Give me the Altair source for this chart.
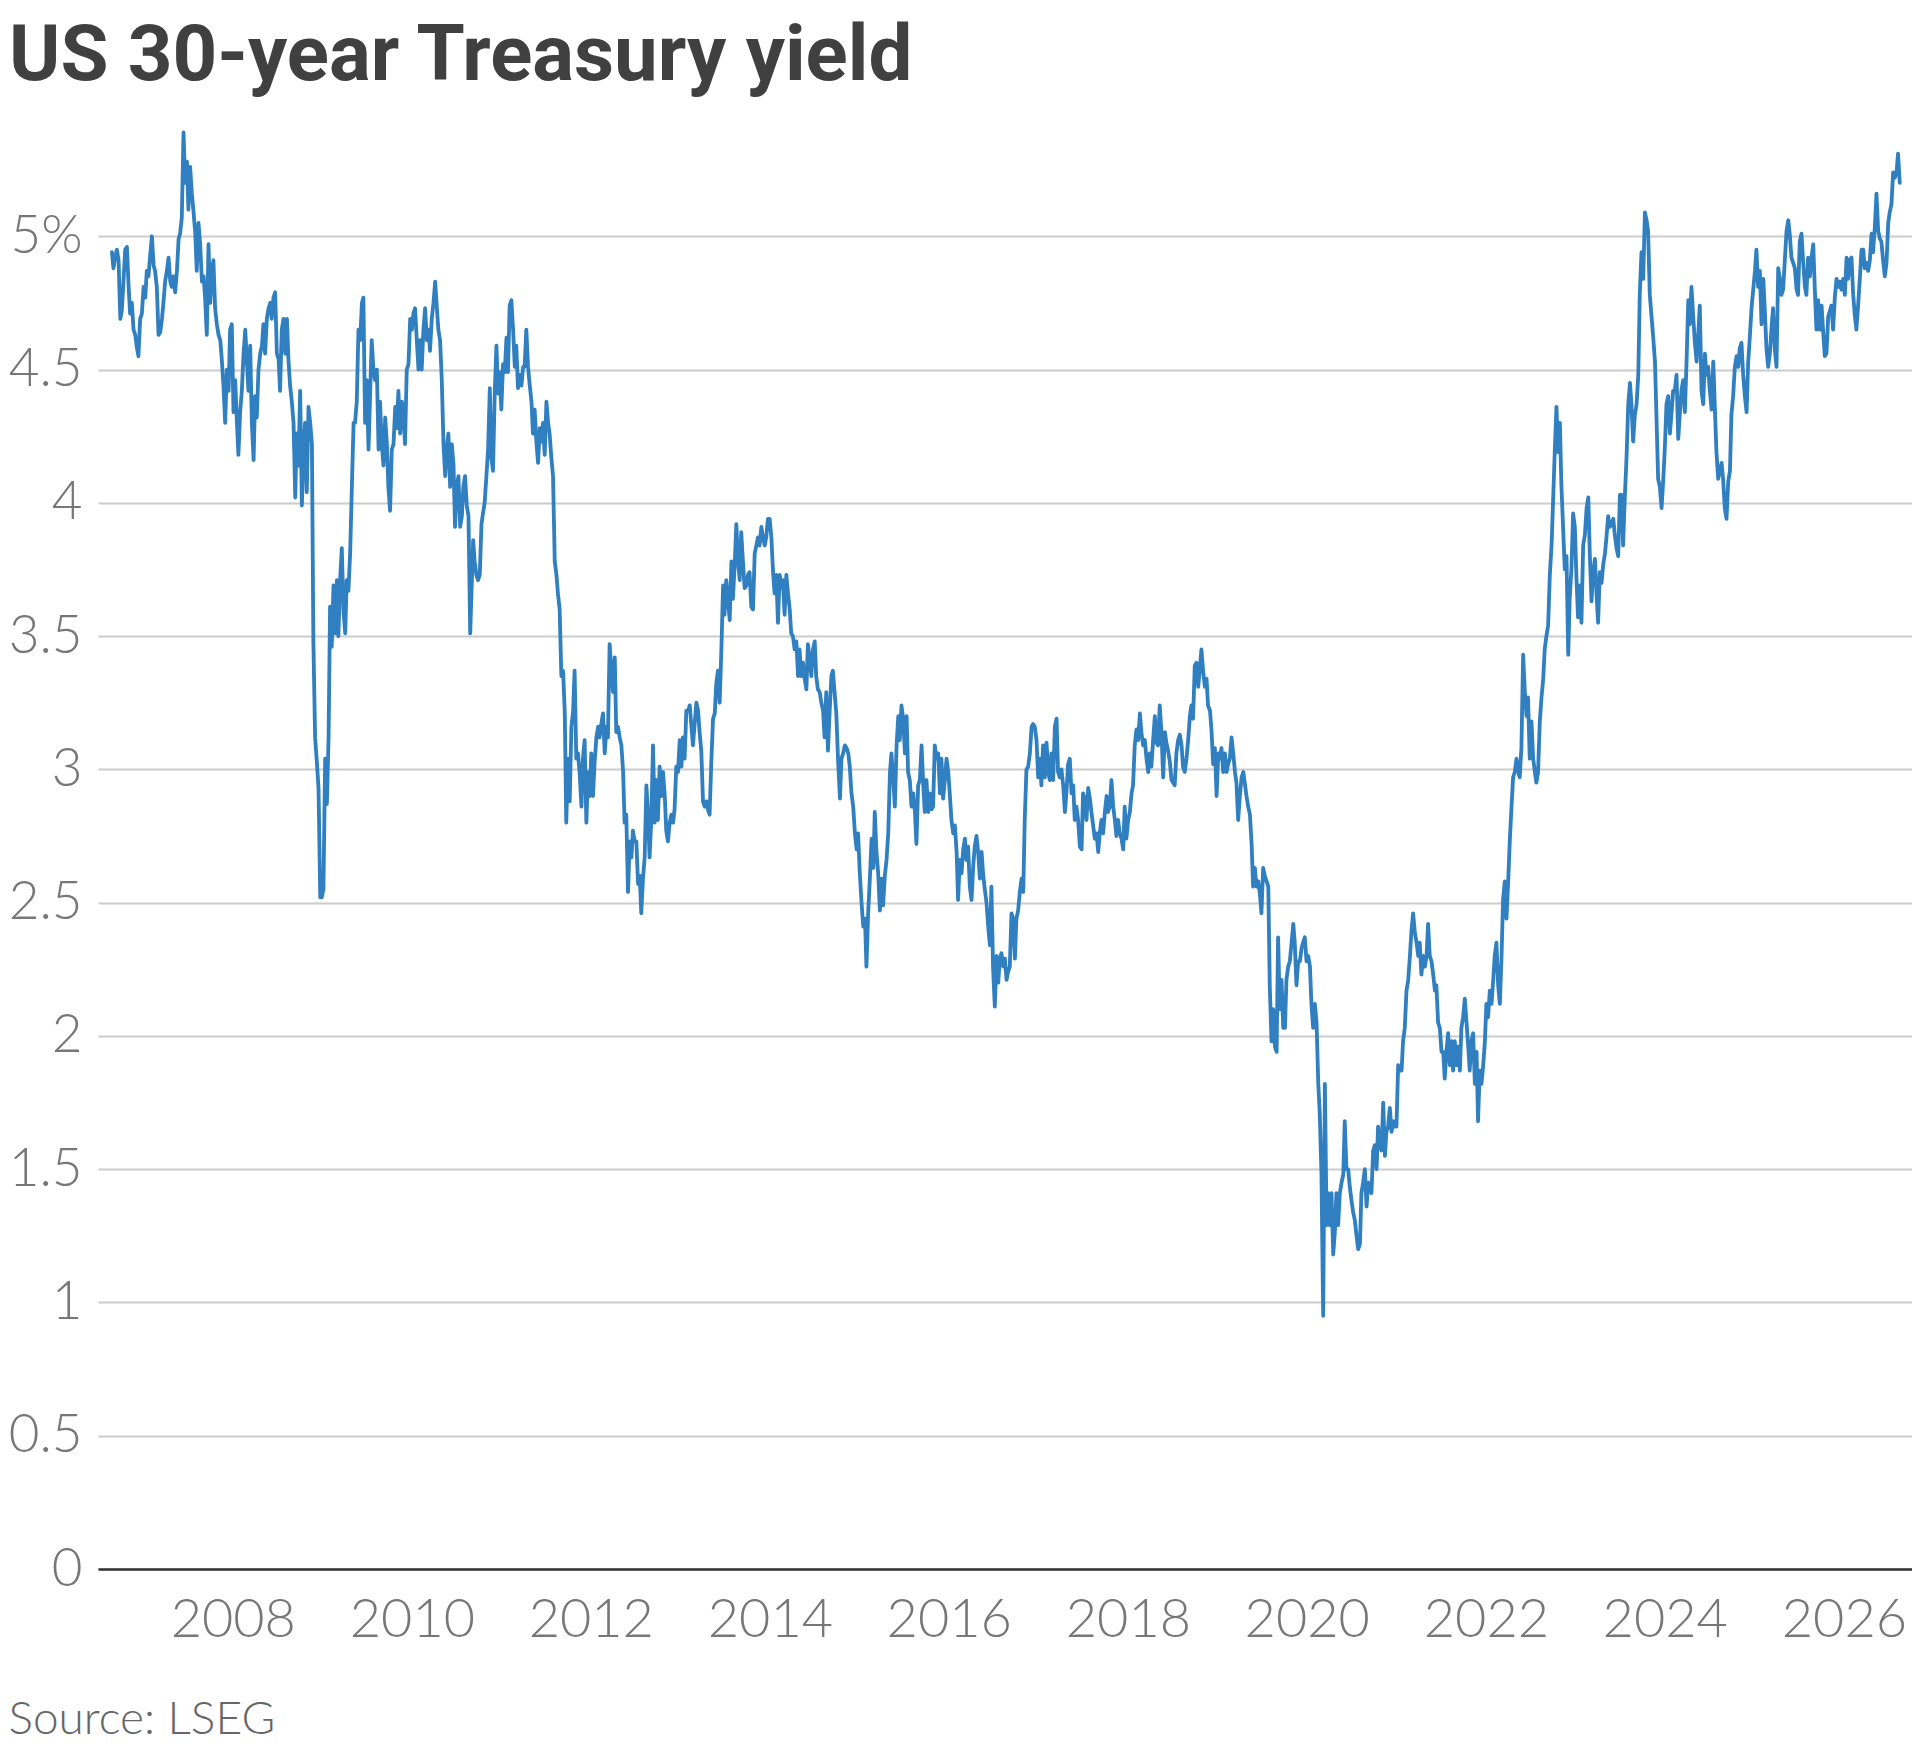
import altair as alt
import numpy as np
import pandas as pd

# ---- data: 30-year US Treasury yield (%), one reading every ~6.8 days ----
SAMPLE_DAYS = 6.8

seg1_start = "2006-08-26"
seg1 = [4.94,4.88,4.92,4.95,4.91,4.69,4.72,4.83,4.95,4.96,
        4.81,4.71,4.75,4.65,4.63,4.58,4.55,4.69,4.71,4.81,
        4.77,4.87,4.85,4.93,5.00,4.89,4.87,4.81,4.63,4.64,
        4.69,4.75,4.83,4.87,4.92,4.83,4.81,4.85,4.79,4.87,
        4.99,5.01,5.07,5.39,5.20,5.28,5.10,5.26,5.16,5.09,
        5.01,4.87,5.05,4.97,4.83,4.85,4.77,4.63,4.97,4.75,
        4.87,4.91,4.73,4.67,4.63,4.61,4.54,4.44,4.30,4.50,
        4.42,4.65,4.67,4.34,4.46,4.30,4.18,4.34,4.42,4.56,
        4.65,4.54,4.42,4.59,4.30,4.16,4.40,4.32,4.50,4.56,
        4.59,4.67,4.56,4.69,4.73,4.75,4.69,4.77,4.79,4.56,
        4.54,4.42,4.65,4.69,4.56,4.69,4.54,4.44,4.38,4.30,
        4.02,4.26,4.14,4.42,3.99,4.20,4.30,4.04,4.36,4.30,
        4.22,3.48,3.12,3.03,2.93,2.52,2.52,2.55,3.04,2.87,
        3.12,3.61,3.46,3.69,3.51,3.71,3.50,3.71,3.83,3.59,
        3.51,3.71,3.67,3.81,4.06,4.30,4.30,4.38,4.65,4.61,
        4.75,4.77,4.30,4.46,4.20,4.42,4.61,4.50,4.46,4.50,
        4.20,4.38,4.22,4.14,4.32,4.22,4.06,3.97,4.20,4.22,
        4.36,4.28,4.42,4.26,4.38,4.32,4.22,4.50,4.52,4.69,
        4.65,4.71,4.73,4.61,4.50,4.61,4.50,4.65,4.73,4.61,
        4.65,4.57,4.69,4.75,4.83,4.73,4.65,4.61,4.46,4.22,
        4.10,4.20,4.26,4.06,4.22,4.14,3.91,4.06,4.10,3.91,
        3.95,4.06,4.10,3.99,3.95,3.51]

seg2_start = "2010-09-08"
seg2 = [3.86,3.78,3.73,3.71,3.73,3.92,3.96,4.00,4.10,4.20,
        4.43,4.17,4.12,4.41,4.59,4.41,4.49,4.35,4.52,4.49,
        4.62,4.49,4.74,4.76,4.65,4.51,4.59,4.43,4.48,4.44,
        4.51,4.51,4.65,4.51,4.44,4.38,4.26,4.35,4.23,4.15,
        4.28,4.23,4.30,4.18,4.38,4.30,4.26,4.17,4.10,3.78,
        3.73,3.66,3.60,3.35,3.37,3.21,2.80,3.04,2.88,3.16,
        3.22,3.37,3.04,3.06,2.98,2.86,3.04,3.11,2.80,2.99,
        2.90,3.06,2.90,3.03,3.12,3.16,3.12,3.17,3.21,3.06,
        3.16,3.12,3.47,3.37,3.29,3.42,3.14,3.16,3.12,3.09,
        2.99,2.80,2.83,2.54,2.73,2.67,2.77,2.73,2.73,2.57,
        2.60,2.46,2.59,2.67,2.94,2.83,2.67,2.81,3.09,2.80,
        2.96,2.81,3.01,2.90,2.99,2.90,2.77,2.73,2.80,2.83,
        2.80,2.85,3.01,2.99,3.11,3.01,3.12,3.04,3.22,3.22,
        3.24,3.17,3.09,3.17,3.25,3.22,3.14,3.07,2.88,2.86,
        2.88,2.85,2.83,3.03,3.19,3.21,3.32,3.37,3.25,3.45,
        3.69,3.58,3.71,3.64,3.56,3.78,3.64,3.76,3.92,3.78,
        3.71,3.89,3.78,3.68,3.69,3.73,3.74,3.61,3.60,3.81,
        3.84,3.87,3.84,3.91,3.87,3.84,3.87,3.94,3.94,3.87,
        3.74,3.66,3.73,3.55,3.73,3.68,3.71,3.58,3.73,3.66,
        3.60,3.51,3.50,3.45,3.48,3.35,3.45,3.35,3.40,3.34,
        3.30,3.47,3.42,3.35,3.45,3.48,3.35,3.30,3.29,3.25,
        3.22,3.12,3.29,3.07,3.22,3.35,3.37,3.29,3.21,3.04]

seg3_start = "2014-10-14"
seg3 = [2.89,3.04,3.06,3.09,3.08,3.06,3.01,2.91,2.86,2.76,
        2.70,2.76,2.61,2.50,2.41,2.44,2.26,2.46,2.59,2.74,
        2.63,2.84,2.69,2.61,2.47,2.59,2.49,2.60,2.66,2.76,
        2.99,3.06,2.97,2.86,3.09,3.20,3.11,3.24,3.19,3.06,
        3.20,2.99,2.96,2.86,2.91,2.84,2.72,2.94,2.96,3.09,
        2.94,2.84,2.96,2.84,2.91,2.85,2.86,3.09,3.04,3.06,
        2.91,3.04,2.89,2.96,3.04,2.99,2.91,2.81,2.76,2.79,
        2.69,2.51,2.66,2.61,2.70,2.74,2.66,2.71,2.56,2.51,
        2.64,2.71,2.75,2.69,2.59,2.69,2.61,2.55,2.50,2.41,
        2.34,2.56,2.25,2.11,2.30,2.20,2.29,2.31,2.26,2.29,
        2.21,2.24,2.26,2.46,2.44,2.29,2.44,2.47,2.54,2.59,
        2.54,2.81,3.00,3.01,3.06,3.16,3.17,3.16,3.11,2.97,
        3.04,2.94,3.09,2.97,3.10,2.99,2.96,3.06,2.96,3.16,
        3.19,2.99,2.97,3.00,2.94,2.84,2.91,3.02,3.04,2.91,
        2.94,2.81,2.86,2.81,2.71,2.70,2.91,2.89,2.81,2.93,
        2.89,2.84,2.79,2.74,2.76,2.69,2.76,2.81,2.76,2.84,
        2.90,2.84,2.86,2.96,2.86,2.81,2.75,2.81,2.76,2.74,
        2.70,2.86,2.74,2.81,2.84,2.91,2.94,3.09,3.15,3.11,
        3.21,3.14,3.09,3.11,3.04,2.99,3.06,3.01,3.11,3.20,
        3.10,3.09,3.24,3.14,2.97,3.14,3.10,3.07,3.03,2.96,
        2.95,2.94,3.06,3.11,3.13,3.09,3.01,2.99,3.04,3.11,
        3.20,3.24,3.19,3.39,3.40,3.31,3.37,3.45,3.37,3.31,
        3.34,3.24]

seg4_start = "2018-12-02"
seg4 = [3.22,3.15,3.02,3.08,2.90,3.06,3.04,3.08,2.99,3.06,
        2.99,3.02,3.04,3.12,3.06,2.99,2.95,2.81,2.90,2.97,
        2.99,2.95,2.90,2.86,2.83,2.72,2.56,2.63,2.56,2.58,
        2.53,2.46,2.63,2.60,2.58,2.56,2.19,1.98,2.10,1.96,
        1.94,2.37,2.10,2.21,2.03,2.03,2.21,2.26,2.28,2.35,
        2.42,2.35,2.19,2.28,2.28,2.33,2.35,2.37,2.28,2.30,
        2.26,2.12,2.03,2.12,2.05,1.82,1.71,1.48,0.95,1.82,
        1.29,1.41,1.29,1.41,1.18,1.27,1.41,1.29,1.41,1.45,
        1.48,1.68,1.50,1.50,1.43,1.38,1.34,1.31,1.25,1.20,
        1.22,1.41,1.45,1.50,1.36,1.45,1.43,1.41,1.57,1.59,
        1.50,1.66,1.59,1.57,1.75,1.55,1.64,1.66,1.73,1.64,
        1.68,1.66,1.66,1.89,1.87,1.87,1.98,2.03,2.17,2.21,
        2.30,2.39,2.46,2.39,2.35,2.30,2.35,2.23,2.30,2.26,
        2.30,2.42,2.30,2.28,2.23,2.17,2.19,2.05,2.03,1.94,
        1.94,1.84,1.94,2.01,1.89,1.98,1.87,1.98,1.89,1.96,
        1.87,2.03,2.07,2.14,2.05,1.96,1.87,1.98,2.01,1.82,
        1.94,1.68,1.87,1.82,1.89,1.98,2.12,2.07,2.17,2.12,
        2.21,2.30,2.35,2.19,2.12,2.30,2.51,2.58,2.44,2.58,
        2.74,2.85,2.97,2.99,3.04,2.99,2.97,3.08,3.43,3.29,
        3.20,3.27,3.04,3.18,3.04,2.99,2.95,2.99,3.18,3.27,
        3.34,3.45,3.50,3.54,3.73,3.84,4.00,4.19,4.36,4.19,
        4.30,4.07,3.91,3.75,3.80,3.43,3.64,3.75,3.96,3.91,
        3.71,3.57]

seg5_start = "2023-01-20"
seg5 = [3.69,3.55,3.84,3.88,3.98,4.02,3.81,3.63,3.74,3.79,
        3.65,3.55,3.74,3.70,3.77,3.81,3.87,3.95,3.91,3.92,
        3.94,3.88,3.83,3.80,4.03,4.03,3.84,4.02,4.17,4.37,
        4.45,4.37,4.23,4.33,4.37,4.48,4.78,4.94,4.84,5.09,
        5.06,5.02,4.78,4.70,4.62,4.53,4.33,4.09,4.06,3.98,
        4.09,4.20,4.37,4.40,4.26,4.34,4.42,4.42,4.48,4.24,
        4.34,4.42,4.46,4.34,4.53,4.76,4.67,4.81,4.70,4.60,
        4.53,4.62,4.74,4.42,4.37,4.56,4.48,4.51,4.42,4.35,
        4.53,4.37,4.19,4.09,4.12,4.15,4.09,3.98,3.94,4.08,
        4.12,4.33,4.40,4.51,4.55,4.51,4.58,4.60,4.48,4.40,
        4.34,4.52,4.62,4.73,4.80,4.87,4.95,4.81,4.87,4.67,
        4.84,4.73,4.58,4.51,4.56,4.66,4.73,4.58,4.51,4.88,
        4.84,4.78,4.80,4.91,5.02,5.06,5.01,4.92,4.90,4.88,
        4.80,4.78,4.98,5.01,4.90,4.81,4.78,4.92,4.85,4.92,
        4.97,4.81,4.65,4.76,4.65,4.74,4.65,4.55,4.56,4.70,
        4.72,4.74,4.65,4.77,4.84,4.81,4.83,4.80,4.84,4.78,
        4.92,4.84,4.91,4.92,4.78,4.70,4.65,4.74,4.84,4.95,
        4.95,4.88,4.90,4.87,4.91,5.01,4.94,5.03,5.16,5.02,
        4.99,4.98,4.91,4.85,4.90,5.05,5.09,5.12,5.24,5.22,
        5.24,5.31,5.20]

y_ticks = [0, 0.5, 1, 1.5, 2, 2.5, 3, 3.5, 4, 4.5, 5]
x_tick_years = [2008, 2010, 2012, 2014, 2016, 2018, 2020, 2022, 2024, 2026]

title_text = "US 30-year Treasury yield"
source_text = "Source: LSEG"

# ---- build table ----
frames = []
for start, vals in [(seg1_start, seg1), (seg2_start, seg2), (seg3_start, seg3),
                    (seg4_start, seg4), (seg5_start, seg5)]:
    dates = pd.Timestamp(start) + pd.to_timedelta(np.arange(len(vals)) * SAMPLE_DAYS, unit="D")
    frames.append(pd.DataFrame({"date": dates.floor("D"), "yield": vals}))
df = pd.concat(frames, ignore_index=True)

LABEL_FONT = "Lato"
GRAY = "#777777"
LEFT = 90

line = alt.Chart(df).mark_line(
    color="#2f7fc1", strokeWidth=3.8, strokeJoin="round", strokeCap="round"
).encode(
    x=alt.X(
        "date:T",
        scale=alt.Scale(domain=[alt.DateTime(year=2006, month=6, date=30),
                                alt.DateTime(year=2026, month=10, date=6)]),
        axis=alt.Axis(
            values=[alt.DateTime(year=y, month=1, date=1) for y in x_tick_years],
            format="%Y", labelAngle=0, labelFont=LABEL_FONT, labelFontWeight=300,
            labelFontSize=54, labelColor=GRAY, labelPadding=24, labelFlush=False,
            labelOverlap=False, ticks=False, grid=False,
            domain=True, domainColor="#333333", domainWidth=2.5, zindex=1,
            title=source_text, titleFont=LABEL_FONT, titleFontWeight=300,
            titleFontSize=46, titleColor="#666666", titleAlign="left",
            titleBaseline="alphabetic", titleX=-LEFT, titleY=164,
        ),
    ),
    y=alt.Y(
        "yield:Q",
        scale=alt.Scale(domain=[0, 5.5], nice=False, zero=True),
        axis=alt.Axis(
            values=y_ticks,
            labelExpr="datum.value == 5 ? '5%' : '' + datum.value",
            labelFont=LABEL_FONT, labelFontWeight=300, labelFontSize=53,
            labelColor=GRAY, labelPadding=16, ticks=False, domain=False,
            grid=True, gridColor="#cccccc", gridWidth=2, title=None,
        ),
    ),
)

title = alt.Chart(pd.DataFrame({"t": [title_text]})).mark_text(
    align="left", baseline="alphabetic", font="Roboto", fontSize=78,
    fontWeight="bold", color="#404040",
).encode(text="t:N", x=alt.value(-LEFT + 1), y=alt.value(-23))

chart = alt.layer(line, title).properties(
    width=1814,
    height=1466,
    background="white",
    autosize=alt.AutoSizeParams(type="none"),
    padding={"left": LEFT, "top": 95, "right": 0, "bottom": 178},
).configure_view(stroke=None)

chart.save("out.html", embed_options={"renderer": "svg", "actions": False})
